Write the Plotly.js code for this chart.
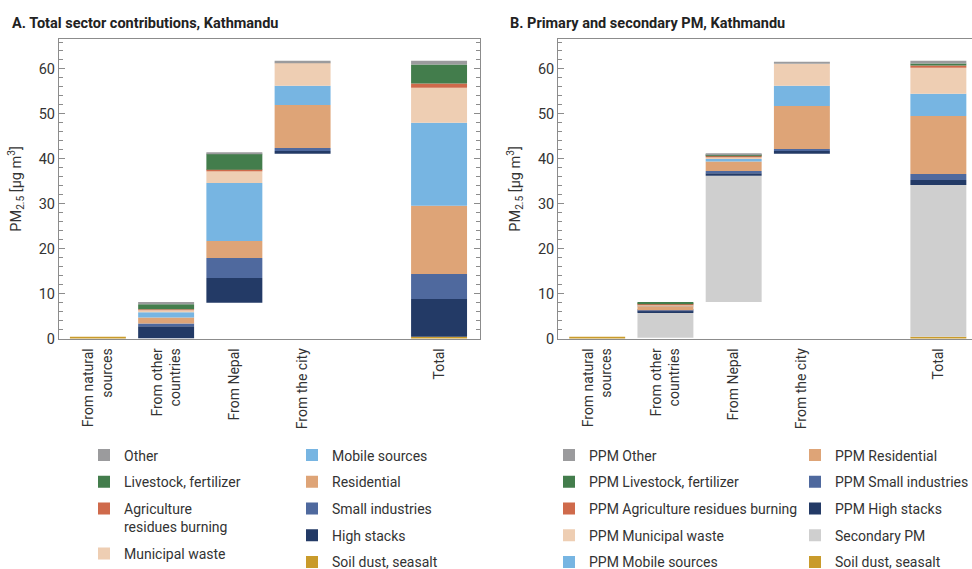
<!DOCTYPE html>
<html>
<head>
<meta charset="utf-8">
<script src="https://cdn.plot.ly/plotly-3.0.1.min.js"></script>
<style>
html, body { margin: 0; padding: 0; overflow: hidden; background: #fff; }
#chart { width: 985px; height: 590px; }
</style>
</head>
<body>
<div id="chart"></div>
<script>
// ---------------- DATA ----------------
const categories = ['From natural<br>sources', 'From other<br>countries', 'From Nepal', 'From the city', '', 'Total'];

// Panel A: total sector contributions (segment heights, µg/m3)
const startA       = [0,   0,    7.95, 41.15, 0, 0];
const soilA        = [0.4, 0,    0,    0,     0, 0.4];
const highStacksA  = [0,   2.74, 5.5,  0.6,   0, 8.37];
const smallIndA    = [0,   0.6,  4.45, 0.67,  0, 5.57];
const residentialA = [0,   1.34, 3.8,  9.58,  0, 15.23];
const mobileA      = [0,   1.18, 12.9, 4.24,  0, 18.43];
const municipalA   = [0,   0.44, 2.7,  5.13,  0, 7.79];
const agricultureA = [0,   0.2,  0.25, 0,     0, 0.97];
const livestockA   = [0,   1.14, 3.55, 0,     0, 4.24];
const otherA       = [0,   0.46, 0.2,  0.44,  0, 0.81];

// Panel B: primary (PPM) and secondary PM
const startB       = [0,   0.15, 8.1,  41.1,  0, 0];
const soilB        = [0.4, 0,    0,    0,     0, 0.4];
const secondaryB   = [0,   5.55, 28.1, 0,     0, 33.78];
const highStacksB  = [0,   0.45, 0.57, 0.65,  0, 1.11];
const smallIndB    = [0,   0.15, 0.51, 0.45,  0, 1.34];
const residentialB = [0,   0.96, 2.12, 9.58,  0, 12.92];
const mobileB      = [0,   0.1,  0.55, 4.46,  0, 4.91];
const municipalB   = [0,   0.2,  0.45, 4.9,   0, 5.79];
const agricultureB = [0,   0.25, 0.2,  0,     0, 0.52];
const livestockB   = [0,   0.3,  0.25, 0,     0, 0.45];
const otherB       = [0,   0,    0.21, 0.45,  0, 0.59];

// ---------------- STYLE ----------------
const COL = {
  soil: '#c99b2b', secondary: '#cfcfcf', high: '#233a66', small: '#4f699e',
  resid: '#dea477', mobile: '#77b5e2', municipal: '#eeceb3', agri: '#cf6a4b',
  livestock: '#437d4c', other: '#9b9b9d'
};
const FONT = "Roboto, 'Liberation Sans', sans-serif";
const TXT = '#333333';
const LINE = '#8c8c8c';

const seriesA = [
  {name: 'Soil dust, seasalt', y: soilA, c: COL.soil, lg: 'legend2'},
  {name: 'High stacks', y: highStacksA, c: COL.high, lg: 'legend2'},
  {name: 'Small industries', y: smallIndA, c: COL.small, lg: 'legend2'},
  {name: 'Residential', y: residentialA, c: COL.resid, lg: 'legend2'},
  {name: 'Mobile sources', y: mobileA, c: COL.mobile, lg: 'legend2'},
  {name: 'Municipal waste', y: municipalA, c: COL.municipal, lg: 'legend'},
  {name: 'Agriculture<br>residues burning', y: agricultureA, c: COL.agri, lg: 'legend'},
  {name: 'Livestock, fertilizer', y: livestockA, c: COL.livestock, lg: 'legend'},
  {name: 'Other', y: otherA, c: COL.other, lg: 'legend'}
];
const seriesB = [
  {name: 'Soil dust, seasalt', y: soilB, c: COL.soil, lg: 'legend4'},
  {name: 'Secondary PM', y: secondaryB, c: COL.secondary, lg: 'legend4'},
  {name: 'PPM High stacks', y: highStacksB, c: COL.high, lg: 'legend4'},
  {name: 'PPM Small industries', y: smallIndB, c: COL.small, lg: 'legend4'},
  {name: 'PPM Residential', y: residentialB, c: COL.resid, lg: 'legend4'},
  {name: 'PPM Mobile sources', y: mobileB, c: COL.mobile, lg: 'legend3'},
  {name: 'PPM Municipal waste', y: municipalB, c: COL.municipal, lg: 'legend3'},
  {name: 'PPM Agriculture residues burning', y: agricultureB, c: COL.agri, lg: 'legend3'},
  {name: 'PPM Livestock, fertilizer', y: livestockB, c: COL.livestock, lg: 'legend3'},
  {name: 'PPM Other', y: otherB, c: COL.other, lg: 'legend3'}
];

const xIdx = categories.map((_, i) => i);

function buildTraces(series, start, xa, ya, prefix) {
  const level = start.slice();
  const out = [];
  const n = series.length;
  series.forEach((s, k) => {
    const base = level.slice();
    out.push({
      type: 'bar', name: s.name, x: xIdx, y: s.y, base: base,
      xaxis: xa, yaxis: ya, width: 0.82,
      marker: {color: s.c, line: {width: 0}},
      legend: s.lg, legendgroup: prefix + k, legendrank: n - k,
      hovertemplate: s.name.replace('<br>', ' ') + ': %{y}<extra></extra>'
    });
    s.y.forEach((v, i) => { level[i] += v; });
  });
  return out;
}

const traces = buildTraces(seriesA, startA, 'x', 'y', 'A')
  .concat(buildTraces(seriesB, startB, 'x2', 'y2', 'B'));

// ---------------- LAYOUT ----------------
const W = 985, H = 590;
const px = v => v / W, py = v => 1 - v / H;

function yAxis(anchor) {
  return {
    domain: [py(338.5), py(39.3)], anchor: anchor,
    range: [0, 66.6], dtick: 10, tick0: 0,
    ticks: 'inside', ticklen: 6, tickwidth: 1.2, tickcolor: LINE,
    minor: {dtick: 2, ticks: 'inside', ticklen: 3.5, tickwidth: 1.2, tickcolor: LINE},
    showline: true, linecolor: LINE, linewidth: 1.3, mirror: 'ticks',
    showgrid: false, zeroline: false,
    tickfont: {family: FONT, size: 14.5, color: TXT},
    title: {text: 'PM<sub>2.5</sub> [µg m<sup>3</sup>]', font: {family: FONT, size: 14.5, color: TXT}, standoff: 13},
    automargin: false, fixedrange: true
  };
}
function xAxis(left, right, anchor) {
  return {
    domain: [px(left), px(right)], anchor: anchor,
    range: [-0.57, 5.6],
    tickmode: 'array', tickvals: xIdx, ticktext: categories,
    tickangle: -90, ticks: '', ticklabelstandoff: 3,
    showline: true, linecolor: LINE, linewidth: 1.3, mirror: true,
    showgrid: false, zeroline: false,
    tickfont: {family: FONT, size: 14, color: TXT},
    automargin: false, fixedrange: true
  };
}
function legendAt(xpx, ypx) {
  return {
    x: px(xpx), y: py(ypx), xanchor: 'left', yanchor: 'top',
    traceorder: 'grouped', tracegroupgap: 5.5, valign: 'top',
    font: {family: FONT, size: 14, color: TXT},
    bgcolor: 'rgba(0,0,0,0)', borderwidth: 0
  };
}

const layout = {
  width: W, height: H,
  margin: {l: 0, r: 0, t: 0, b: 0},
  paper_bgcolor: '#ffffff', plot_bgcolor: '#ffffff',
  barmode: 'overlay',
  font: {family: FONT, color: TXT},
  xaxis: xAxis(59, 480, 'y'),
  yaxis: yAxis('x'),
  xaxis2: xAxis(558.3, 979.3, 'y2'),
  yaxis2: yAxis('x2'),
  showlegend: true,
  legend: legendAt(84, 439.5),
  legend2: legendAt(292, 439.5),
  legend3: legendAt(549, 439.5),
  legend4: legendAt(795, 439.5),
  annotations: [
    {text: '<b>A. Total sector contributions, Kathmandu</b>', xref: 'paper', yref: 'paper',
     x: px(10), y: py(23), xanchor: 'left', yanchor: 'middle', showarrow: false,
     font: {family: FONT, size: 14.5, color: '#222'}},
    {text: '<b>B. Primary and secondary PM, Kathmandu</b>', xref: 'paper', yref: 'paper',
     x: px(508), y: py(23), xanchor: 'left', yanchor: 'middle', showarrow: false,
     font: {family: FONT, size: 14.5, color: '#222'}}
  ]
};

Plotly.newPlot('chart', traces, layout, {displayModeBar: false});
</script>
</body>
</html>
